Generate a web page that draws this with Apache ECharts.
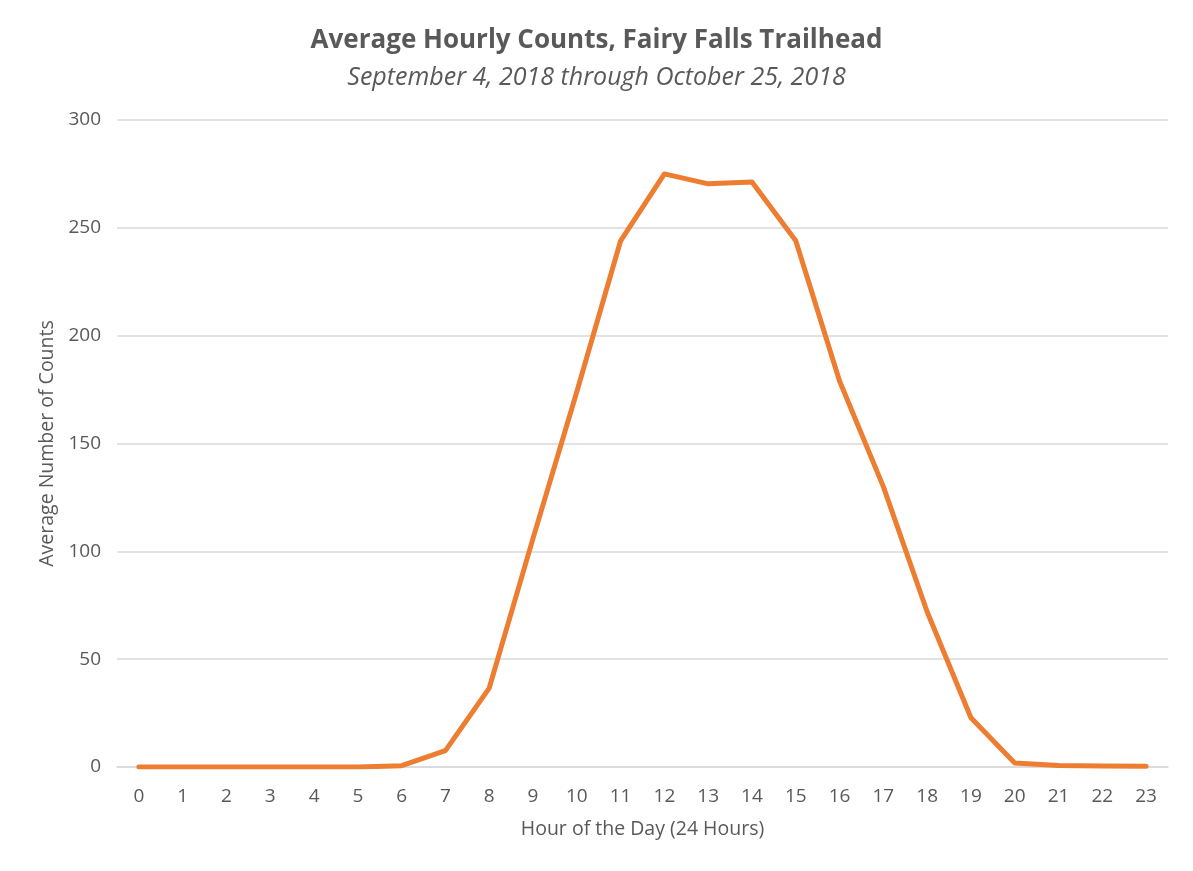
<!DOCTYPE html>
<html>
<head>
<meta charset="utf-8">
<title>Average Hourly Counts, Fairy Falls Trailhead</title>
<script src="https://cdn.jsdelivr.net/npm/echarts@6/dist/echarts.min.js"></script>
<style>
  html, body { margin: 0; padding: 0; background: #fff; }
  #chart { width: 1193px; height: 871px; }
</style>
</head>
<body>
<div id="chart"></div>
<script>
  const hours = ['0', '1', '2', '3', '4', '5', '6', '7', '8', '9', '10', '11',
    '12', '13', '14', '15', '16', '17', '18', '19', '20', '21', '22', '23']
  const counts = [0, 0, 0, 0, 0, 0, 0.6, 7.6, 36.6, 106, 174, 244,
    275, 270.4, 271.3, 244, 179, 130, 72, 22.8, 1.9, 0.7, 0.5, 0.3]

  const textColor = '#595959'
  const gridColor = '#d9d9d9'
  const font = '"Open Sans", "Liberation Sans", sans-serif'

  const chart = echarts.init(document.getElementById('chart'))
  const option = {
    backgroundColor: '#fff',
    animation: false,
    title: [
      {
        text: 'Average Hourly Counts, Fairy Falls Trailhead',
        left: 'center',
        top: 23,
        textStyle: { color: textColor, fontFamily: font, fontSize: 26, fontWeight: 'bold' }
      },
      {
        text: 'September 4, 2018 through October 25, 2018',
        left: 'center',
        top: 60,
        textStyle: { color: textColor, fontFamily: font, fontSize: 25, fontWeight: 'normal', fontStyle: 'italic' }
      }
    ],
    grid: {
      left: 117,
      right: 25,
      top: 120,
      bottom: 104
    },
    xAxis: {
      type: 'category',
      data: hours,
      boundaryGap: true,
      name: 'Hour of the Day (24 Hours)',
      nameLocation: 'middle',
      nameGap: 52,
      nameTextStyle: { color: textColor, fontFamily: font, fontSize: 19.5 },
      axisLine: { show: true, lineStyle: { color: gridColor, width: 1.5 } },
      axisTick: { show: false },
      axisLabel: { color: textColor, fontFamily: font, fontSize: 19, margin: 20 }
    },
    yAxis: {
      type: 'value',
      min: 0,
      max: 300,
      interval: 50,
      name: 'Average Number of Counts',
      nameLocation: 'middle',
      nameRotate: 90,
      nameGap: 60,
      nameTextStyle: { color: textColor, fontFamily: font, fontSize: 19.5 },
      axisLine: { show: false },
      axisTick: { show: false },
      axisLabel: { color: textColor, fontFamily: font, fontSize: 19, margin: 16 },
      splitLine: { lineStyle: { color: gridColor, width: 1.5 } }
    },
    series: [
      {
        name: 'Average Hourly Counts',
        type: 'line',
        data: counts,
        symbol: 'none',
        lineStyle: { color: '#ed7d31', width: 5, cap: 'round', join: 'round' },
        itemStyle: { color: '#ed7d31' }
      }
    ]
  }
  chart.setOption(option)
  window.addEventListener('resize', () => {
    chart.resize()
  })
</script>
</body>
</html>
